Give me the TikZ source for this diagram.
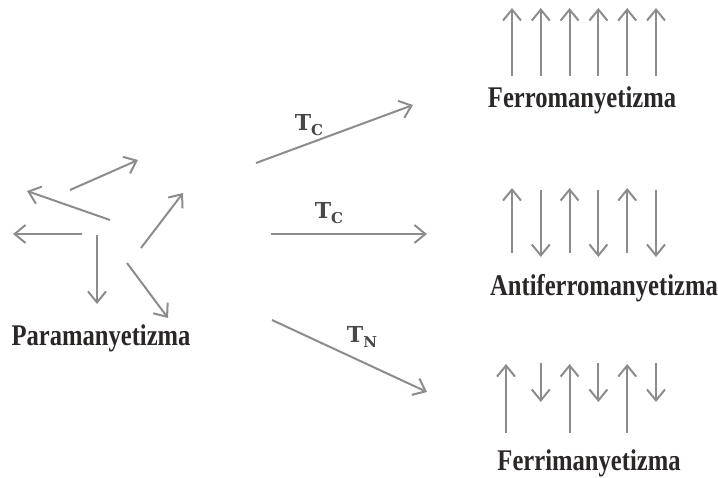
\documentclass[tikz,border=0pt]{standalone}
\usepackage{fontspec}
\setmainfont{Liberation Serif}
\newfontfamily\lblfont[FakeStretch=0.82]{Liberation Serif}
\newfontfamily\tfont{DejaVu Serif}
\usetikzlibrary{arrows.meta}
\definecolor{spin}{HTML}{8C8C8C}
\definecolor{txt}{HTML}{2A2726}
\newcommand{\tsub}[1]{T\raisebox{-0.4ex}{\fontsize{7.5}{8}\selectfont #1}}
\begin{document}
\begin{tikzpicture}[x=0.5pt,y=-0.5pt,
  spinarrow/.style={draw=spin, line width=1pt, -{Straight Barb[length=5.5pt,width=9pt,line width=1pt]}},
  phase/.style={font=\lblfont\bfseries\fontsize{15}{18}\selectfont, text=txt, inner sep=0pt},
  temp/.style={font=\tfont\bfseries\fontsize{11}{13}\selectfont, text=txt!85!white, inner sep=0pt}]
\useasboundingbox (0,0) rectangle (718,477);

% --- paramagnetism: random spins ---
\draw[spinarrow] (70,190) -- (138,160);
\draw[spinarrow] (110,220) -- (27,191);
\draw[spinarrow] (82,234) -- (13,234);
\draw[spinarrow] (97,235) -- (97,304);
\draw[spinarrow] (141,248) -- (183,193);
\draw[spinarrow] (127,263) -- (168,318);
\node[phase] (para) at (101,338) {Paramanyetizma};

% --- transition arrows ---
\coordinate (s1) at (256,163); \coordinate (e1) at (413,105);
\coordinate (s2) at (271,234); \coordinate (e2) at (427,234);
\coordinate (s3) at (272,320); \coordinate (e3) at (427,392);
\draw[spinarrow] (s1) -- (e1);
\draw[spinarrow] (s2) -- (e2);
\draw[spinarrow] (s3) -- (e3);
\node[temp] (tc1) at (309,125) {\tsub{C}};
\node[temp] (tc2) at (329,213) {\tsub{C}};
\node[temp] (tn) at (362,337) {\tsub{N}};

% --- ferromagnetism ---
\foreach \x in {512,540.8,569.6,598.4,627.2,656}
  \draw[spinarrow] (\x,76) -- (\x,8);
\node[phase] (ferro) at (582,100) {Ferromanyetizma};

% --- antiferromagnetism ---
\foreach \x in {512,569.6,627.2}
  \draw[spinarrow] (\x,253) -- (\x,188);
\foreach \x in {540.8,598.4,656}
  \draw[spinarrow] (\x,190) -- (\x,257);
\node[phase] (anti) at (604,288) {Antiferromanyetizma};

% --- ferrimagnetism ---
\foreach \x in {506,569.6,627.2}
  \draw[spinarrow] (\x,433) -- (\x,364);
\foreach \x in {540.8,598.4,656}
  \draw[spinarrow] (\x,363) -- (\x,402);
\node[phase] (ferri) at (589,463) {Ferrimanyetizma};
\end{tikzpicture}
\end{document}
